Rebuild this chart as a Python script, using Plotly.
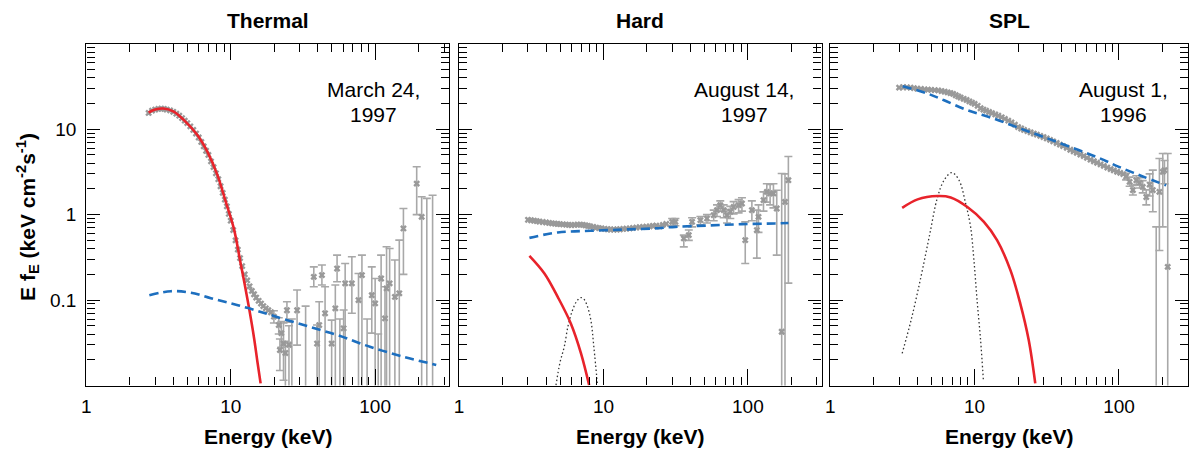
import plotly.graph_objects as go

# ---------------- Thermal: March 24, 1997 ----------------
th_E = [2.7, 2.85, 3.0, 3.15, 3.3, 3.45, 3.6, 3.8, 4.0, 4.2, 4.4, 4.6, 4.8, 5.0, 5.25, 5.5,
        5.75, 6.0, 6.25, 6.5, 6.75, 7.0, 7.3, 7.6, 7.9, 8.2, 8.5, 8.8, 9.1, 9.4, 9.7, 10.0,
        10.4, 10.8, 11.2, 11.6, 12.0, 12.5, 13.0, 13.5, 14.0, 14.5, 15.0, 15.6, 16.2, 16.8,
        17.5, 18.2, 19.0]
th_flux = [15.5, 16.5, 17.0, 17.3, 17.4, 17.3, 17.0, 16.6, 16.0, 15.2, 14.4, 13.5, 12.6, 11.8,
           10.8, 9.8, 8.9, 8.0, 7.1, 6.3, 5.6, 5.0, 4.2, 3.6, 3.05, 2.6, 2.15, 1.8, 1.5, 1.25,
           1.02, 0.85, 0.66, 0.50, 0.39, 0.31, 0.25, 0.20, 0.17, 0.145, 0.128, 0.117, 0.107,
           0.098, 0.091, 0.085, 0.080, 0.076, 0.072]
th_bar_E = [19.9, 21.5, 21.9, 22.4, 23.2, 23.9, 24.5, 25.3, 26.5, 28.8, 33.0, 37.6, 39.6, 41.0,
            42.8, 45.0, 50.0, 53.0, 54.5, 57.0, 60.5, 62.0, 69.0, 76.7, 81.0, 88.0, 94.8, 100,
            105, 110, 117, 120, 126, 137, 147, 157, 194, 210, 228, 250]
th_bar_flux = [0.064, 0.051, 0.026, 0.041, 0.031, 0.024, 0.076, 0.030, 0.005, 0.076, 0.005,
               0.187, 0.031, 0.051, 0.196, 0.070, 0.031, 0.080, 0.234, 0.005, 0.0467, 0.157,
               0.157, 0.100, 0.196, 0.005, 0.114, 0.0914, 0.005, 0.179, 0.061, 0.137, 0.157,
               0.109, 0.120, 0.689, 2.31, 0.943, 0.005, 0.005]
th_bar_hi = [0.075, 0.062, 0.035, 0.056, 0.054, 0.033, 0.0955, 0.05, 0.06, 0.131, 0.085, 0.245,
             0.051, 0.0955, 0.257, 0.143, 0.0583, 0.15, 0.336, 0.06, 0.0764, 0.268, 0.321,
             0.205, 0.336, 0.06, 0.245, 0.179, 0.04, 0.336, 0.143, 0.421, 0.402, 0.294, 0.503,
             1.18, 3.63, 1.62, 1.55, 1.69]
th_bar_lo = [0.054, 0.04, 0.015, 0.028, 0.0115, 0.0001, 0.055, 0.0001, 0.0001, 0.0297, 0.0001,
             0.143, 0.0001, 0.0001, 0.15, 0.0001, 0.0001, 0.0001, 0.164, 0.0001, 0.0001, 0.0001,
             0.07, 0.0001, 0.0001, 0.0001, 0.041, 0.0001, 0.0001, 0.0001, 0.0001, 0.0001,
             0.0001, 0.0001, 0.0001, 0.2, 1.0, 0.0001, 0.0001, 0.0001]
th_red_E = [2.7, 3.0, 3.4, 4.0, 4.76, 5.89, 6.9, 8.09, 9.24, 10.5, 11.7, 12.5, 13.4, 14.5, 15.3, 16.1]
th_red = [15.7, 17.0, 17.5, 16.2, 12.7, 8.5, 5.43, 2.9, 1.41, 0.69, 0.27, 0.152, 0.08, 0.036, 0.019, 0.0106]
th_blue_E = [2.73, 3.86, 5.3, 7.28, 10, 13.4, 18.9, 32, 54.5, 92, 157, 265]
th_blue = [0.114, 0.127, 0.122, 0.105, 0.0915, 0.080, 0.0668, 0.051, 0.039, 0.0284, 0.0217, 0.0174]

# ---------------- Hard: August 14, 1997 ----------------
hd_E = [3.0, 3.15, 3.3, 3.45, 3.6, 3.8, 4.0, 4.2, 4.4, 4.6, 4.8, 5.0, 5.25, 5.5, 5.75, 6.0,
        6.3, 6.6, 6.9, 7.2, 7.5, 7.8, 8.1, 8.5, 8.9, 9.3, 9.7, 10.2, 10.7, 11.2, 11.8, 12.4,
        13.0, 13.7, 14.4, 15.2, 16.0, 16.9, 17.8, 18.8, 19.8, 20.9, 22.0, 23.2, 24.5, 25.8, 27.2]
hd_flux = [0.87, 0.86, 0.85, 0.84, 0.83, 0.82, 0.81, 0.80, 0.79, 0.785, 0.78, 0.775, 0.77,
           0.765, 0.76, 0.755, 0.76, 0.765, 0.765, 0.76, 0.75, 0.74, 0.73, 0.72, 0.705, 0.695,
           0.69, 0.68, 0.675, 0.67, 0.67, 0.67, 0.675, 0.68, 0.685, 0.69, 0.70, 0.705, 0.715,
           0.72, 0.725, 0.73, 0.74, 0.745, 0.73, 0.76, 0.78]
hd_bar_E = [29.9, 31.5, 36.0, 39.0, 41.1, 46.9, 52.1, 58.0, 61.1, 64.4, 68.0, 71.7, 75.6, 79.7,
            86.3, 91.0, 95.9, 106.6, 115.4, 118.5, 128.3, 135.3, 142.6, 150.4, 158.5, 171.5,
            180.8, 190.8]
hd_bar_flux = [0.824, 0.824, 0.527, 0.576, 0.824, 0.862, 0.903, 0.987, 1.13, 1.29, 1.13, 0.987,
               1.08, 1.23, 1.29, 1.35, 0.503, 1.13, 0.659, 0.942, 1.48, 1.85, 1.77, 1.77, 1.18,
               0.0426, 1.41, 2.53]
hd_bar_hi = [0.90, 0.90, 0.576, 0.66, 0.92, 0.95, 1.0, 1.13, 1.3, 1.45, 1.3, 1.15, 1.25, 1.42,
             1.5, 1.58, 0.824, 1.45, 1.13, 1.3, 1.85, 2.3, 2.25, 2.3, 1.93, 3.03, 3.0, 4.8]
hd_bar_lo = [0.74, 0.74, 0.42, 0.50, 0.72, 0.76, 0.80, 0.85, 0.95, 1.1, 0.92, 0.80, 0.90, 1.02,
             1.05, 1.1, 0.268, 0.85, 0.31, 0.62, 1.1, 1.4, 1.3, 1.2, 0.336, 0.0001, 0.0001, 0.158]
hd_red_E = [3.07, 3.9, 4.82, 5.95, 6.98, 7.96]
hd_red = [0.33, 0.205, 0.109, 0.053, 0.024, 0.0101]
hd_blue_E = [3.07, 4.82, 8.18, 13.9, 22.3, 31.5, 53.6, 91, 154, 191]
hd_blue = [0.535, 0.619, 0.647, 0.67, 0.69, 0.72, 0.747, 0.774, 0.789, 0.80]
hd_line_E = [4.69, 5.0, 5.35, 5.7, 6.11, 6.5, 6.95, 7.3, 7.7, 8.18, 8.6, 9.09]
hd_line = [0.0101, 0.0186, 0.0284, 0.051, 0.0764, 0.096, 0.107, 0.103, 0.0865, 0.058, 0.027, 0.0101]

# ---------------- SPL: August 1, 1996 ----------------
sp_E = [3.0, 3.2, 3.4, 3.6, 3.8, 4.0, 4.25, 4.5, 4.75, 5.0, 5.3, 5.6, 5.9, 6.2, 6.5, 6.8, 7.1,
        7.4, 7.7, 8.0, 8.4, 8.8, 9.2, 9.6, 10.0, 10.5, 11, 11.5, 12, 12.6, 13.2, 13.9, 14.6,
        15.4, 16.2, 17.1, 18, 19, 20, 21, 22, 23.2, 24.4, 25.7, 27, 28.5, 30, 31.6, 33.3, 35,
        37, 39, 41, 43.5, 46, 48.5, 51, 54, 57, 60, 63.5, 67, 70.5, 74.5, 78.5, 83, 87.5, 92,
        97, 102, 107]
sp_flux = [30.7, 31.0, 30.9, 30.7, 30.3, 29.9, 29.6, 29.3, 29.0, 28.9, 28.7, 28.5, 28.0, 27.5,
           27.0, 26.5, 25.9, 25.0, 24.2, 23.5, 22.7, 22.0, 21.2, 20.5, 19.8, 18.8, 17.6, 17.0,
           16.5, 15.9, 15.4, 14.9, 14.4, 13.8, 13.2, 12.6, 12.0, 11.3, 10.6, 10.2, 9.8, 9.5,
           9.2, 8.9, 8.65, 8.35, 8.1, 7.8, 7.5, 7.2, 6.9, 6.6, 6.35, 6.05, 5.75, 5.5, 5.3, 5.05,
           4.85, 4.62, 4.4, 4.22, 4.05, 3.88, 3.72, 3.56, 3.42, 3.3, 3.18, 3.08, 2.98]
sp_bar_E = [112, 118.5, 124.8, 131.8, 139, 146, 154.5, 163, 171.5, 181, 190.5, 201, 206.5, 217.5]
sp_bar_flux = [2.8, 2.42, 1.94, 2.53, 2.35, 2.11, 1.61, 2.25, 1.94, 0.005, 1.85, 3.17, 3.32, 0.245]
sp_bar_hi = [3.05, 2.75, 2.2, 2.85, 2.7, 2.5, 1.95, 3.0, 3.32, 0.72, 4.54, 5.2, 4.3, 5.2]
sp_bar_lo = [2.55, 2.15, 1.7, 2.25, 2.05, 1.8, 1.3, 1.65, 1.08, 0.0001, 0.38, 0.72, 2.3, 0.0001]
sp_red_E = [3.15, 4.03, 5.54, 6.83, 8.91, 11.6, 14.3, 17.7, 20.7, 23.7, 26.3]
sp_red = [1.2, 1.51, 1.65, 1.59, 1.23, 0.824, 0.503, 0.224, 0.0915, 0.034, 0.0106]
sp_blue_E = [3.18, 4.73, 6.15, 8.91, 13.6, 20.7, 30, 45.8, 69.8, 101, 146, 212]
sp_blue = [31.8, 26.1, 21.8, 16.7, 13.3, 10.2, 8.13, 6.21, 4.74, 3.6, 2.8, 2.2]
sp_line_E = [3.15, 3.63, 4.25, 4.85, 5.54, 6.15, 6.95, 7.8, 8.67, 9.38, 9.89, 10.4, 11.0, 11.5]
sp_line = [0.0238, 0.058, 0.187, 0.55, 1.61, 2.53, 3.11, 2.53, 1.35, 0.72, 0.294, 0.1, 0.034, 0.0116]

panel_titles = ["Thermal", "Hard", "SPL"]
panel_dates = [("March 24,", "1997"), ("August 14,", "1997"), ("August 1,", "1996")]
x_tick_vals = [1, 10, 100]
x_tick_text = ["1", "10", "100"]
y_tick_vals = [0.1, 1, 10]
y_tick_text = ["0.1", "1", "10"]

GREY = "#999999"
BAR_GREY = "#a8a8a8"
RED = "#e8232b"
BLUE = "#1d6fbf"
FONT = "Liberation Sans, Arial, Helvetica, sans-serif"
W, H = 1189, 450

fig = go.Figure()


def add_panel(i, E, flux, bE, bflux, bhi, blo, redE, red, blueE, blue, lineE=None, line=None):
    xa = "x" if i == 1 else f"x{i}"
    ya = "y" if i == 1 else f"y{i}"
    fig.add_trace(go.Scatter(
        x=bE, y=bflux, mode="markers", xaxis=xa, yaxis=ya,
        marker=dict(symbol="x", size=6, color=GREY, line=dict(width=0)),
        error_y=dict(type="data", symmetric=False,
                     array=[h - v for h, v in zip(bhi, bflux)],
                     arrayminus=[v - l for v, l in zip(bflux, blo)],
                     color=BAR_GREY, thickness=1.6, width=4),
        showlegend=False, hoverinfo="skip"))
    fig.add_trace(go.Scatter(
        x=E, y=flux, mode="markers", xaxis=xa, yaxis=ya,
        marker=dict(symbol="x", size=6, color=GREY, line=dict(width=0)),
        showlegend=False, hoverinfo="skip"))
    if lineE is not None:
        fig.add_trace(go.Scatter(
            x=lineE, y=line, mode="lines", xaxis=xa, yaxis=ya, line_shape="spline",
            line=dict(color="#333333", width=1.3, dash="1.5px,2.5px"),
            showlegend=False, hoverinfo="skip"))
    fig.add_trace(go.Scatter(
        x=redE, y=red, mode="lines", xaxis=xa, yaxis=ya, line_shape="spline",
        line=dict(color=RED, width=2.6), showlegend=False, hoverinfo="skip"))
    fig.add_trace(go.Scatter(
        x=blueE, y=blue, mode="lines", xaxis=xa, yaxis=ya, line_shape="spline",
        line=dict(color=BLUE, width=2.6, dash="9px,5px"), showlegend=False, hoverinfo="skip"))


add_panel(1, th_E, th_flux, th_bar_E, th_bar_flux, th_bar_hi, th_bar_lo,
          th_red_E, th_red, th_blue_E, th_blue)
add_panel(2, hd_E, hd_flux, hd_bar_E, hd_bar_flux, hd_bar_hi, hd_bar_lo,
          hd_red_E, hd_red, hd_blue_E, hd_blue, hd_line_E, hd_line)
add_panel(3, sp_E, sp_flux, sp_bar_E, sp_bar_flux, sp_bar_hi, sp_bar_lo,
          sp_red_E, sp_red, sp_blue_E, sp_blue, sp_line_E, sp_line)

# pixel geometry of the three frames
x_left = [81.7, 456.0, 828.7]
x_right = [446.0, 820.0, 1188.0]
y_top, y_bot = 43.8, 385.5

x_minor = [2, 3, 4, 5, 6, 7, 8, 9, 20, 30, 40, 50, 60, 70, 80, 90, 200, 300]
y_minor = [m * d for d in (0.01, 0.1, 1, 10) for m in range(2, 10)]

layout = dict(
    width=W, height=H, margin=dict(l=0, r=0, t=0, b=0),
    paper_bgcolor="white", plot_bgcolor="white",
    font=dict(family=FONT, color="black", size=19),
)
annotations = []
for k in range(3):
    sfx = "" if k == 0 else str(k + 1)
    span = (x_right[k] - x_left[k]) / 145.0
    layout["xaxis" + sfx] = dict(
        type="log", range=[0, span], domain=[x_left[k] / W, x_right[k] / W],
        anchor="y" + sfx, showgrid=False, zeroline=False,
        showline=True, linecolor="black", linewidth=1.4, mirror="ticks",
        ticks="inside", ticklen=16, tickwidth=1.3, tickcolor="black",
        tickmode="array", tickvals=x_tick_vals, ticktext=x_tick_text,
        tickfont=dict(size=19, family=FONT), ticklabelstandoff=3,
        minor=dict(tickmode="array", tickvals=x_minor, ticks="inside",
                   ticklen=8, tickwidth=1.2, tickcolor="black", showgrid=False),
    )
    layout["yaxis" + sfx] = dict(
        type="log", range=[-2, 2], domain=[1 - y_bot / H, 1 - y_top / H],
        anchor="x" + sfx, showgrid=False, zeroline=False,
        showline=True, linecolor="black", linewidth=1.4, mirror="ticks",
        ticks="inside", ticklen=13, tickwidth=1.3, tickcolor="black",
        tickmode="array", tickvals=y_tick_vals, ticktext=y_tick_text,
        showticklabels=(k == 0), tickfont=dict(size=19, family=FONT),
        ticklabelstandoff=5,
        minor=dict(tickmode="array", tickvals=y_minor, ticks="inside",
                   ticklen=8, tickwidth=1.2, tickcolor="black", showgrid=False),
    )
    # panel title
    annotations.append(dict(
        text="<b>%s</b>" % panel_titles[k], xref="x%s domain" % sfx, x=0.5,
        yref="paper", y=1 - 21 / H, yanchor="middle", showarrow=False,
        font=dict(size=21, family=FONT, color="black")))
    # axis title
    annotations.append(dict(
        text="<b>Energy (keV)</b>", xref="x%s domain" % sfx, x=0.5,
        yref="paper", y=1 - 436 / H, yanchor="middle", showarrow=False,
        font=dict(size=21, family=FONT, color="black")))

date_cx = [370, 742.5, 1123.5]
for k in range(3):
    for j, line_txt in enumerate(panel_dates[k]):
        annotations.append(dict(
            text=line_txt, xref="paper", x=date_cx[k] / W, xanchor="center",
            yref="paper", y=1 - (89 + 25.5 * j) / H, yanchor="middle", showarrow=False,
            font=dict(size=21, family=FONT, color="black")))

annotations.append(dict(
    text="<b>E f<sub>E</sub> (keV cm<sup>-2</sup>s<sup>-1</sup>)</b>",
    xref="paper", x=22 / W, yref="paper", y=1 - 217 / H, textangle=-90,
    xanchor="center", yanchor="middle", showarrow=False,
    font=dict(size=21, family=FONT, color="black")))

layout["annotations"] = annotations
fig.update_layout(**layout)
fig.write_html("out.html")
